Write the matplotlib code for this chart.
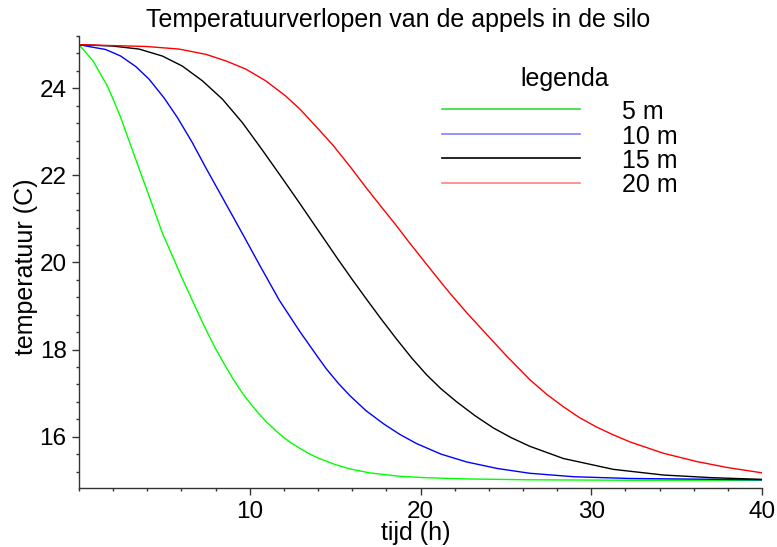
import numpy as np
import matplotlib
matplotlib.use("Agg")
import matplotlib.pyplot as plt
from matplotlib.ticker import MultipleLocator, FixedLocator

# ─────────────────────────────────────────────
# DATA
# ─────────────────────────────────────────────
green_t = [0, 0.82, 1.66, 2.0, 2.44, 3.32, 4.10, 4.88, 5.57, 6.0, 6.45, 7.0, 7.42, 8.0,
           8.40, 9.0, 9.57, 10.0, 10.55, 11.0, 11.72, 12.3, 12.94, 13.48, 14.0, 15.0,
           15.87, 17.0, 18.8, 20.2, 22.7, 26.4, 32.3, 40]
green_T = [25.0, 24.63, 24.05, 23.75, 23.33, 22.37, 21.53, 20.68, 20.06, 19.67, 19.29, 18.82,
           18.47, 18.02, 17.74, 17.34, 17.00, 16.78, 16.52, 16.33, 16.07, 15.89, 15.73, 15.61,
           15.51, 15.36, 15.26, 15.17, 15.09, 15.06, 15.03, 15.01, 15.0, 15.0]

blue_t = [0, 0.98, 1.56, 2.44, 3.32, 4.10, 4.98, 5.76, 6.64, 7.42, 8.20, 8.98, 9.77, 10.55,
          11.72, 12.94, 13.48, 14.0, 14.5, 15.2, 15.87, 16.8, 17.82, 18.8, 19.78, 21.2, 22.7,
          24.5, 26.4, 29.0, 32.3, 35.0, 40]
blue_T = [25.0, 24.93, 24.89, 24.74, 24.50, 24.21, 23.78, 23.33, 22.75, 22.18, 21.63, 21.08,
          20.52, 19.96, 19.14, 18.41, 18.11, 17.82, 17.55, 17.22, 16.94, 16.60, 16.30, 16.05,
          15.84, 15.60, 15.42, 15.27, 15.16, 15.08, 15.04, 15.03, 15.01]

black_t = [0, 1.95, 3.52, 4.88, 6.05, 7.23, 8.40, 9.57, 10.74, 11.91, 12.94, 13.48, 14.3,
           15.19, 16.0, 16.85, 17.7, 18.6, 19.5, 20.36, 21.2, 22.12, 23.2, 24.27, 25.3,
           26.4, 28.36, 31.29, 34.22, 37.0, 40]
black_T = [25.0, 24.97, 24.90, 24.74, 24.51, 24.17, 23.75, 23.21, 22.58, 21.93, 21.35, 21.04,
           20.57, 20.06, 19.61, 19.15, 18.70, 18.24, 17.80, 17.42, 17.10, 16.80, 16.48, 16.20,
           15.98, 15.78, 15.50, 15.25, 15.12, 15.06, 15.02]

red_t = [0, 3.91, 5.86, 7.42, 8.59, 9.77, 10.94, 12.11, 12.94, 14.05, 14.9, 15.9, 16.85,
         17.7, 18.6, 19.3, 20.07, 20.9, 21.73, 22.7, 23.68, 25.0, 26.4, 27.4, 28.36, 29.3,
         30.32, 31.3, 32.27, 34.22, 36.17, 38.0, 40]
red_T = [25.0, 24.96, 24.90, 24.78, 24.63, 24.44, 24.17, 23.82, 23.52, 23.05, 22.68, 22.19,
         21.70, 21.28, 20.84, 20.48, 20.10, 19.69, 19.29, 18.85, 18.43, 17.87, 17.31, 16.97,
         16.69, 16.44, 16.22, 16.04, 15.88, 15.62, 15.43, 15.29, 15.17]

labels = ["5 m", "10 m", "15 m", "20 m"]
x_ticks = [10, 20, 30, 40]

# ─────────────────────────────────────────────
# PLOT
# ─────────────────────────────────────────────
plt.rcParams['font.family'] = ['Liberation Sans', 'DejaVu Sans']

W, H = 777, 547
fig = plt.figure(figsize=(W / 100, H / 100), dpi=100)
ax = fig.add_axes([79 / W, 1 - 488.3 / H, (762 - 79) / W, (488.3 - 36) / H])

series = [(green_t, green_T, '#00ff00'), (blue_t, blue_T, '#0000ff'),
          (black_t, black_T, '#000000'), (red_t, red_T, '#ff0000')]
for t, T, c in series:
    ax.plot(t, T, color=c, lw=1.0, solid_joinstyle='round')

ax.set_xlim(0, 40)
ax.set_ylim(14.815, 25.2)

for s in ['top', 'right']:
    ax.spines[s].set_visible(False)
for s in ['left', 'bottom']:
    ax.spines[s].set_color('#333333')
    ax.spines[s].set_linewidth(1.0)

ax.xaxis.set_major_locator(FixedLocator(x_ticks))
ax.xaxis.set_minor_locator(MultipleLocator(2))
ax.yaxis.set_major_locator(MultipleLocator(2))
ax.yaxis.set_minor_locator(MultipleLocator(0.4))
ax.tick_params(which='major', direction='out', length=5, width=1, color='#333333',
               labelsize=17.5, pad=4)
ax.tick_params(which='minor', direction='out', length=2.5, width=1, color='#333333')

fig.text(398 / W, 1 - 20 / H, "Temperatuurverlopen van de appels in de silo",
         ha='center', va='center', fontsize=18)
fig.text(416 / W, 1 - 533 / H, "tijd (h)", ha='center', va='center', fontsize=18)
fig.text(26 / W, 1 - 267 / H, "temperatuur (C)", ha='center', va='center',
         rotation=90, fontsize=18)

# legend, Maple style
fig.text(565 / W, 1 - 79 / H, "legenda", ha='center', va='center', fontsize=18)
leg_colors = ['#33dd33', '#8080ff', '#000000', '#ff8080']
leg_y = [109.3, 134, 158.3, 182.7]
for lab, c, y in zip(labels, leg_colors, leg_y):
    fig.add_artist(plt.Line2D([441.7 / W, 580 / W], [1 - y / H, 1 - y / H],
                              color=c, lw=1.2, transform=fig.transFigure))
    fig.text(622 / W, 1 - (y + 2.5) / H, lab, ha='left', va='center', fontsize=18)

fig.savefig("out.png", dpi=100)
